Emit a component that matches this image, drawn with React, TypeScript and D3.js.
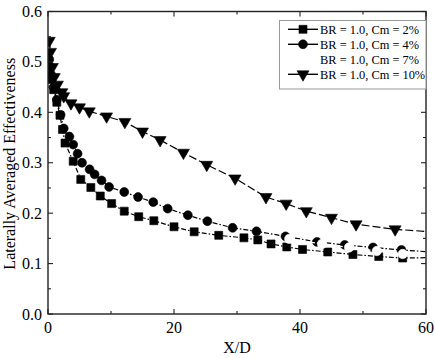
import { useEffect, useRef } from 'react';
import * as d3 from 'd3';

// X/D positions and effectiveness values
const xCm2 = [0.2, 0.5, 0.9, 1.4, 1.9, 2.3, 2.7, 4.0, 5.2, 6.8, 8.3, 10.1, 12.1, 14.4, 16.8, 20.0, 23.2, 27.1, 31.1, 33.3, 35.4, 37.9, 40.4, 44.4, 48.4, 52.5, 56.3, 62];
const yCm2 = [0.49, 0.465, 0.445, 0.42, 0.394, 0.366, 0.339, 0.303, 0.267, 0.251, 0.234, 0.219, 0.204, 0.193, 0.185, 0.173, 0.163, 0.156, 0.151, 0.147, 0.139, 0.133, 0.128, 0.123, 0.118, 0.114, 0.111, 0.112];

const xCm4 = [0.2, 0.5, 0.9, 1.4, 2.0, 2.5, 3.4, 4.0, 4.7, 5.4, 6.6, 7.4, 8.5, 9.7, 12.1, 14.3, 16.7, 19.0, 22.2, 25.3, 29.3, 33.1, 37.7, 42.7, 47.1, 51.6, 56.1, 62];
const yCm4 = [0.505, 0.475, 0.45, 0.425, 0.395, 0.368, 0.352, 0.336, 0.318, 0.3, 0.287, 0.277, 0.265, 0.252, 0.242, 0.232, 0.222, 0.209, 0.196, 0.184, 0.171, 0.164, 0.154, 0.143, 0.137, 0.132, 0.127, 0.122];

const xCm7 = [38.3, 43.5, 47.8, 52.2, 56.3, 62];
const yCm7 = [0.149, 0.139, 0.132, 0.125, 0.119, 0.114];

const xCm10 = [0.2, 0.4, 0.7, 1.0, 1.5, 2.2, 2.5, 3.65, 5.0, 6.55, 9.3, 12.2, 15.0, 17.8, 21.5, 25.2, 29.7, 34.6, 37.8, 41.0, 45.0, 48.9, 55.1, 62];
const yCm10 = [0.542, 0.52, 0.49, 0.47, 0.455, 0.44, 0.432, 0.418, 0.41, 0.402, 0.392, 0.381, 0.362, 0.345, 0.32, 0.296, 0.269, 0.232, 0.219, 0.204, 0.191, 0.178, 0.168, 0.162];

const seriesNames = ['BR = 1.0, Cm = 2%', 'BR = 1.0, Cm = 4%', 'BR = 1.0, Cm = 7%', 'BR = 1.0, Cm = 10%'];
const xTicks = [0, 20, 40, 60];
const yTicks = [0.0, 0.1, 0.2, 0.3, 0.4, 0.5, 0.6];

const FONT = '"Liberation Serif", "Times New Roman", serif';

const App = () => {
  const ref = useRef<SVGSVGElement>(null);

  useEffect(() => {
    const svg = d3.select(ref.current);
    svg.selectAll('*').remove();
    const width = 435;
    const height = 358;
    const margin = { top: 11.5, right: 9, bottom: 44, left: 48 };

    const x = d3.scaleLinear().domain([0, 60]).range([margin.left, width - margin.right]);
    const y = d3.scaleLinear().domain([0, 0.6]).range([height - margin.bottom, margin.top]);

    svg.append('defs').append('clipPath').attr('id', 'plotClip')
      .append('rect')
      .attr('x', x(0)).attr('y', y(0.6))
      .attr('width', x(60) - x(0)).attr('height', y(0) - y(0.6));

    const series = [
      { xs: xCm2, ys: yCm2, shape: d3.symbolSquare, size: 64, color: '#000', dash: '5,2,1.5,2' },
      { xs: xCm4, ys: yCm4, shape: d3.symbolCircle, size: 62, color: '#000', dash: '1.5,2,5,2' },
      { xs: xCm7, ys: yCm7, shape: d3.symbolCircle, size: 70, color: '#fff', dash: '5,2' },
      { xs: xCm10, ys: yCm10, shape: d3.symbolTriangle, size: 62, color: '#000', dash: '8,3' },
    ];

    const plot = svg.append('g').attr('clip-path', 'url(#plotClip)');
    const line = d3.line<[number, number]>().x(d => x(d[0])).y(d => y(d[1]));

    series.forEach(s => {
      const pts: [number, number][] = s.xs.map((v, i) => [v, s.ys[i]]);
      plot.append('path')
        .attr('d', line(pts))
        .attr('fill', 'none')
        .attr('stroke', s.color)
        .attr('stroke-width', 1.2)
        .attr('stroke-dasharray', s.dash);
      plot.selectAll(null).data(pts).enter().append('path')
        .attr('d', d3.symbol().type(s.shape).size(s.size)())
        .attr('transform', d => `translate(${x(d[0])},${y(d[1])})${s.shape === d3.symbolTriangle ? ' rotate(180)' : ''}`)
        .attr('fill', s.color)
        .attr('stroke', s.color)
        .attr('stroke-width', 0.6);
    });

    // frame
    const axisColor = '#222';
    svg.append('rect')
      .attr('x', x(0)).attr('y', y(0.6))
      .attr('width', x(60) - x(0)).attr('height', y(0) - y(0.6))
      .attr('fill', 'none').attr('stroke', axisColor).attr('stroke-width', 1.4);

    // ticks, all pointing inward
    const tickG = svg.append('g').attr('stroke', axisColor).attr('stroke-width', 1.1);
    d3.range(0, 61, 10).forEach(v => {
      const len = v % 20 === 0 ? 5 : 3;
      tickG.append('line').attr('x1', x(v)).attr('x2', x(v)).attr('y1', y(0)).attr('y2', y(0) - len);
      tickG.append('line').attr('x1', x(v)).attr('x2', x(v)).attr('y1', y(0.6)).attr('y2', y(0.6) + len);
    });
    d3.range(0, 13).forEach(i => {
      const v = i * 0.05;
      const len = i % 2 === 0 ? 5 : 3;
      tickG.append('line').attr('x1', x(0)).attr('x2', x(0) + len).attr('y1', y(v)).attr('y2', y(v));
      tickG.append('line').attr('x1', x(60)).attr('x2', x(60) - len).attr('y1', y(v)).attr('y2', y(v));
    });

    svg.selectAll('.xlab').data(xTicks).enter().append('text')
      .attr('x', d => x(d)).attr('y', y(0) + 19)
      .attr('text-anchor', 'middle')
      .style('font-family', FONT).style('font-size', '16px')
      .text(d => d);

    svg.selectAll('.ylab').data(yTicks).enter().append('text')
      .attr('x', x(0) - 6).attr('y', d => y(d) + 5.5)
      .attr('text-anchor', 'end')
      .style('font-family', FONT).style('font-size', '16px')
      .text(d => d.toFixed(1));

    svg.append('text')
      .attr('x', (x(0) + x(60)) / 2).attr('y', 353)
      .attr('text-anchor', 'middle')
      .style('font-family', FONT).style('font-size', '16px')
      .text('X/D');

    svg.append('text')
      .attr('transform', `translate(15,${(y(0) + y(0.6)) / 2 + 1}) rotate(-90)`)
      .attr('text-anchor', 'middle')
      .style('font-family', FONT).style('font-size', '16px')
      .text('Laterally Averaged Effectiveness');

    // legend
    const lg = svg.append('g');
    lg.append('rect')
      .attr('x', 279.5).attr('y', 20.5).attr('width', 146.5).attr('height', 68.5)
      .attr('fill', '#fff').attr('stroke', '#999').attr('stroke-width', 1);
    seriesNames.forEach((name, i) => {
      const cy = 29.3 + i * 15;
      const s = series[i];
      lg.append('line')
        .attr('x1', 288).attr('x2', 318).attr('y1', cy).attr('y2', cy)
        .attr('stroke', s.color).attr('stroke-width', 1.4);
      lg.append('path')
        .attr('d', d3.symbol().type(s.shape).size(s.size)())
        .attr('transform', `translate(303,${cy})${s.shape === d3.symbolTriangle ? ' rotate(180)' : ''}`)
        .attr('fill', s.color).attr('stroke', s.color).attr('stroke-width', 0.6);
      lg.append('text')
        .attr('x', 320).attr('y', cy + 4.5)
        .style('font-family', FONT).style('font-size', '12.4px')
        .text(name);
    });
  }, []);

  return (
    <div>
      <svg
        ref={ref}
        width={435}
        height={358}
        style={{ position: 'absolute', left: 0, top: 0, background: '#fff' }}
      />
    </div>
  );
};

export default App;
